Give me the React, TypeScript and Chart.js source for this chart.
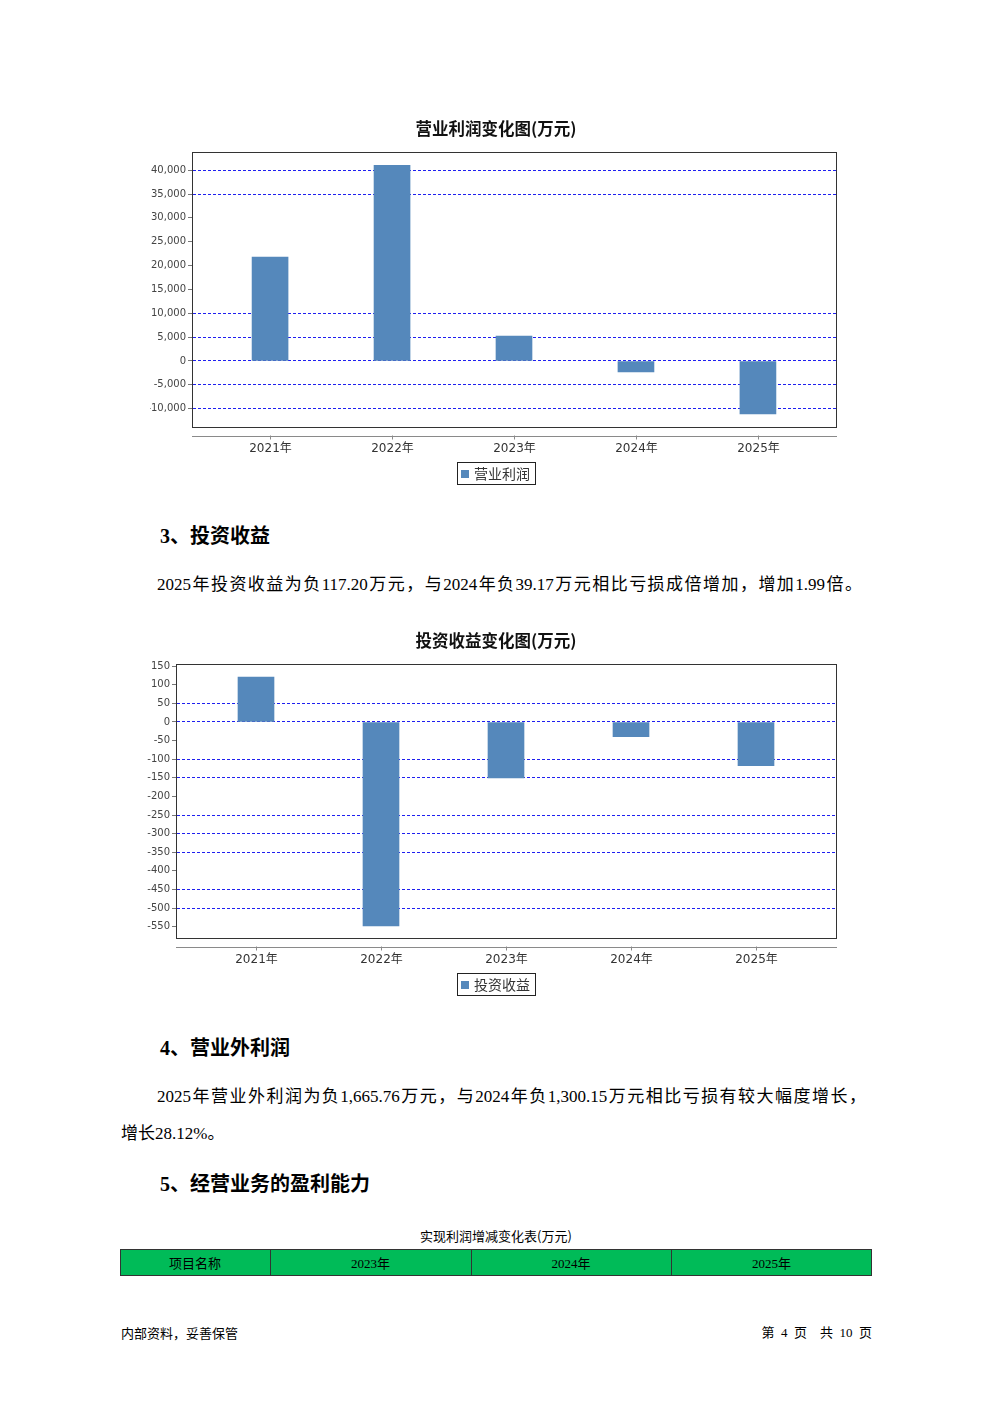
import React, { useEffect, useRef } from 'react';
import { Chart, registerables } from 'chart.js';
Chart.register(...registerables);

const years = ['2021年', '2022年', '2023年', '2024年', '2025年'];
const operatingProfit = [21800, 41000, 5200, -2300, -11100];
const investmentIncome = [121, -548, -150.5, -39.17, -117.2];
const opTicks = [-10000, -5000, 0, 5000, 10000, 15000, 20000, 25000, 30000, 35000, 40000];
const opGridTicks = [40000, 35000, 10000, 5000, 0, -5000, -10000];
const invTicks = [-550, -500, -450, -400, -350, -300, -250, -200, -150, -100, -50, 0, 50, 100, 150];
const invGridTicks = [50, 0, -100, -150, -250, -300, -350, -450, -500];
const tableHeaders = ['项目名称', '2023年', '2024年', '2025年'];

const CJK = '"Noto Sans CJK SC"';
const SERIF = '"Liberation Serif", "Noto Sans CJK SC"';

type BarProps = {
  top: number;
  height: number;
  title: string;
  seriesName: string;
  labels: string[];
  values: number[];
  yMin: number;
  yMax: number;
  ticks: number[];
  gridTicks: number[];
  padLeft: number;
  padTop: number;
  padBottom: number;
  padRight: number;
  axisWidth: number;
};

function BarChart(p: BarProps) {
  const ref = useRef<HTMLCanvasElement | null>(null);
  useEffect(() => {
    if (!ref.current) return;
    const decor = {
      id: 'decor',
      afterDraw(chart: any) {
        const { ctx, chartArea: a, scales } = chart;
        const x = scales.x;
        ctx.save();
        ctx.strokeStyle = '#333';
        ctx.lineWidth = 1;
        ctx.setLineDash([]);
        ctx.strokeRect(Math.round(a.left) + 0.5, Math.round(a.top) + 0.5, Math.round(a.right - a.left), Math.round(a.bottom - a.top));
        ctx.fillStyle = '#111';
        ctx.font = `bold 16.5px ${CJK}`;
        ctx.textAlign = 'center';
        ctx.textBaseline = 'middle';
        ctx.fillText(p.title, 496, 19);
        const ay = Math.round(a.bottom) + 9.5;
        ctx.strokeStyle = '#8a8a8a';
        ctx.beginPath();
        ctx.moveTo(Math.round(a.left), ay);
        ctx.lineTo(Math.round(a.right) + 1, ay);
        ctx.stroke();
        ctx.fillStyle = '#333';
        ctx.font = `12px "DejaVu Sans", ${CJK}`;
        p.labels.forEach((lab, i) => {
          const px = Math.round(x.getPixelForValue(i)) + 0.5;
          ctx.beginPath();
          ctx.moveTo(px, ay - 1);
          ctx.lineTo(px, ay + 3);
          ctx.stroke();
          ctx.fillText(lab, px, ay + 12);
        });
        const lx = 457, ly = Math.round(a.bottom) + 35;
        ctx.strokeStyle = '#222';
        ctx.strokeRect(lx + 0.5, ly + 0.5, 78, 22);
        ctx.fillStyle = '#5588bb';
        ctx.fillRect(lx + 4, ly + 8, 8, 8);
        ctx.fillStyle = '#333';
        ctx.textAlign = 'left';
        ctx.font = `14px ${CJK}`;
        ctx.fillText(p.seriesName, lx + 17, ly + 12);
        ctx.restore();
      },
    };
    const chart = new Chart(ref.current, {
      type: 'bar',
      data: {
        datasets: [
          {
            label: p.seriesName,
            data: p.values.map((v, i) => ({ x: i, y: v })),
            backgroundColor: '#5588bb',
            borderWidth: 0,
            barThickness: 36,
          },
        ],
      },
      options: {
        responsive: false,
        animation: false,
        devicePixelRatio: 1,
        layout: { padding: { left: p.padLeft, right: p.padRight, top: p.padTop, bottom: p.padBottom } },
        plugins: { legend: { display: false }, tooltip: { enabled: false }, title: { display: false } },
        scales: {
          x: { type: 'linear', min: -0.64, max: 4.64, offset: false, display: false },
          y: {
            min: p.yMin,
            max: p.yMax,
            afterBuildTicks: (s: any) => {
              s.ticks = p.ticks.map((v) => ({ value: v }));
            },
            afterFit: (s: any) => {
              s.width = p.axisWidth;
            },
            ticks: {
              color: '#444',
              padding: 2,
              autoSkip: false,
              font: { family: 'DejaVu Sans', size: 10 },
              callback: (v: any) => Number(v).toLocaleString('en-US'),
            },
            grid: {
              color: (c: any) => (c.tick && p.gridTicks.includes(c.tick.value) ? '#1f1ff0' : 'rgba(0,0,0,0)'),
              tickColor: '#777',
              tickLength: 4,
              lineWidth: 1,
            },
            border: { display: true, color: '#333', dash: [3, 2] },
          },
        },
      },
      plugins: [decor],
    } as any);
    return () => chart.destroy();
  }, []);
  return (
    <canvas
      ref={ref}
      width={992}
      height={p.height}
      style={{ position: 'absolute', left: 0, top: p.top, width: 992, height: p.height }}
    />
  );
}

const txt = (top: number, left: number, size: number, content: React.ReactNode, extra: any = {}) => (
  <div
    style={{
      position: 'absolute',
      top: top - 12,
      left,
      height: 24,
      lineHeight: '24px',
      fontSize: size,
      fontFamily: SERIF,
      color: '#000',
      whiteSpace: 'nowrap',
      ...extra,
    }}
  >
    {content}
  </div>
);

const justified = (top: number, left: number, width: number, content: string) => (
  <div
    style={{
      position: 'absolute',
      top: top - 12,
      left,
      width,
      height: 24,
      lineHeight: '24px',
      fontSize: 17,
      fontFamily: SERIF,
      color: '#000',
      textAlign: 'justify',
      textAlignLast: 'justify',
    }}
  >
    {content}
  </div>
);

export default function App() {
  const cols = [120, 270, 471, 671, 872];
  return (
    <div style={{ position: 'absolute', left: 0, top: 0, width: 992, height: 1403, background: '#fff', overflow: 'hidden' }}>
      <BarChart
        top={110}
        height={390}
        title="营业利润变化图(万元)"
        seriesName="营业利润"
        labels={years}
        values={operatingProfit}
        yMin={-13840}
        yMax={43810}
        ticks={opTicks}
        gridTicks={opGridTicks}
        padLeft={150}
        padRight={156}
        padTop={42}
        padBottom={73}
        axisWidth={42}
      />
      {txt(536, 160, 20, '3、投资收益', { fontWeight: 'bold' })}
      {justified(585, 157, 705, '2025年投资收益为负117.20万元，与2024年负39.17万元相比亏损成倍增加，增加1.99倍。')}
      <BarChart
        top={622}
        height={390}
        title="投资收益变化图(万元)"
        seriesName="投资收益"
        labels={years}
        values={investmentIncome}
        yMin={-580.6}
        yMax={155.9}
        ticks={invTicks}
        gridTicks={invGridTicks}
        padLeft={134}
        padRight={156}
        padTop={42}
        padBottom={74}
        axisWidth={42}
      />
      {txt(1048, 160, 20, '4、营业外利润', { fontWeight: 'bold' })}
      {justified(1097, 157, 709, '2025年营业外利润为负1,665.76万元，与2024年负1,300.15万元相比亏损有较大幅度增长，')}
      {txt(1134, 121, 17, '增长28.12%。')}
      {txt(1184, 160, 20, '5、经营业务的盈利能力', { fontWeight: 'bold' })}
      {txt(1236, 0, 13, '实现利润增减变化表(万元)', { width: 992, textAlign: 'center', fontFamily: CJK })}
      <div style={{ position: 'absolute', left: 120, top: 1249, width: 752, height: 27, background: '#00bb58', border: '1px solid #333', boxSizing: 'border-box' }} />
      {tableHeaders.map((h, i) => (
        <React.Fragment key={h}>
          {i > 0 && <div style={{ position: 'absolute', left: cols[i], top: 1249, width: 1, height: 27, background: '#333' }} />}
          {txt(1264, cols[i], 13, h, { width: cols[i + 1] - cols[i], textAlign: 'center' })}
        </React.Fragment>
      ))}
      {txt(1333, 121, 13, '内部资料，妥善保管', { fontFamily: CJK })}
      {txt(1333, 672, 13, '第  4  页    共  10  页', { width: 200, textAlign: 'right', whiteSpace: 'pre' })}
    </div>
  );
}
